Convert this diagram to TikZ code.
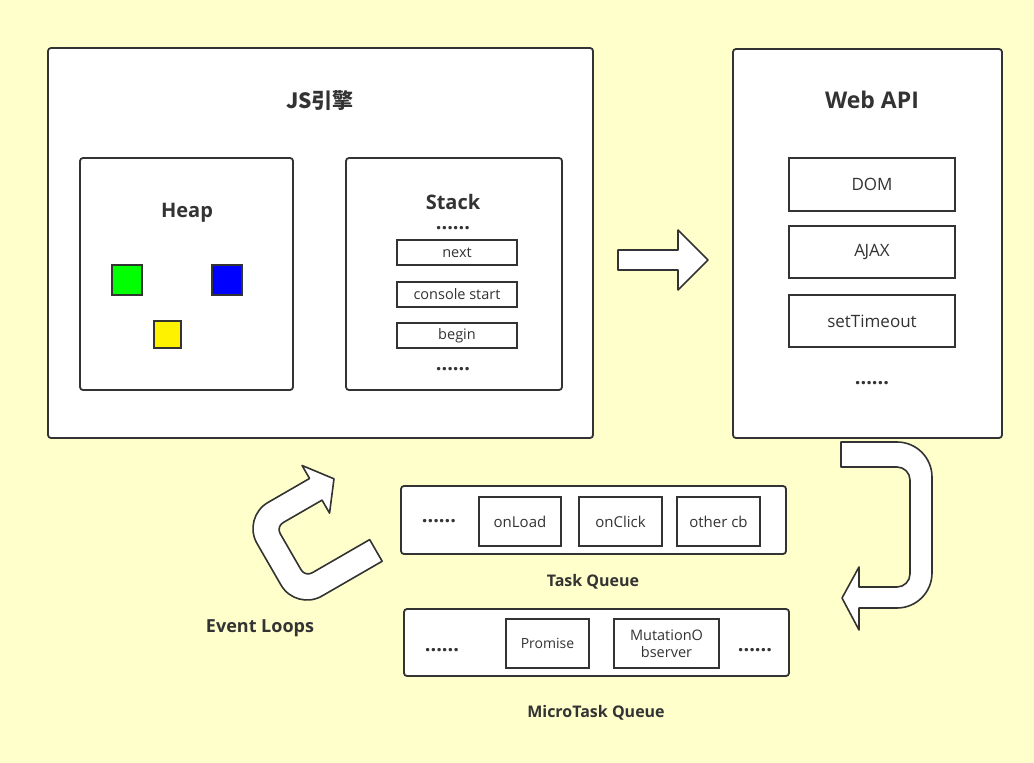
\documentclass[tikz,border=0pt]{standalone}
\usepackage{fontspec}
\setmainfont{Open Sans}
\newfontfamily\cjk{Noto Sans CJK SC}
\definecolor{bgcolor}{HTML}{FFFFCC}
\definecolor{linecolor}{HTML}{333333}

\begin{document}
\begin{tikzpicture}[x=1pt, y=-1pt,
  panel/.style={draw=linecolor, fill=white, line width=1.8pt, rounded corners=3pt, inner sep=0pt},
  cell/.style={draw=linecolor, fill=white, line width=1.8pt, inner sep=0pt, text=linecolor,
    font=\fontsize{15}{17}\selectfont, align=center},
  heading/.style={text=linecolor, font=\bfseries\fontsize{20}{24}\selectfont,
    text height=0.72em, text depth=0em, inner sep=0pt},
  caption/.style={heading, font=\bfseries\fontsize{16}{19}\selectfont},
  ellip/.style={text=linecolor, font=\bfseries\fontsize{20}{20}\selectfont, inner sep=0pt},
  blockarrow/.style={draw=linecolor, fill=white, line width=1.6pt, line join=round}
]

% --- canvas --------------------------------------------------------
\useasboundingbox (0,0) rectangle (1034,763);
\fill[bgcolor] (0,0) rectangle (1034,763);

% === JS engine =====================================================
\node[panel, minimum width=545pt, minimum height=390pt] (engine) at (320.5,243) {};
\node[heading, font=\cjk\bfseries\fontsize{21}{24}\selectfont] (engineT) at (320,105) {JS引擎};

% --- heap ----------------------------------------------------------
\node[panel, minimum width=213pt, minimum height=232pt] (heap) at (186.5,274) {};
\node[heading] (heapT) at (187,214) {Heap};
\node[draw=linecolor, fill=green, line width=1.8pt, minimum size=30pt] (objA) at (127,280) {};
\node[draw=linecolor, fill=blue, line width=1.8pt, minimum size=30pt] (objB) at (227,280) {};
\node[draw=linecolor, fill=yellow, line width=1.8pt, minimum size=27pt] (objC) at (167.5,334.5) {};

% --- stack ---------------------------------------------------------
\node[panel, minimum width=216pt, minimum height=232pt] (stack) at (454,274) {};
\node[heading] (stackT) at (453,206) {Stack};
\node[ellip] (stackTop) at (453,228) {......};
\node[cell, minimum width=120pt, minimum height=25pt, font=\fontsize{14.5}{16}\selectfont] (next) at (457,252.5) {next};
\node[cell, minimum width=120pt, minimum height=25pt, font=\fontsize{14.5}{16}\selectfont] (console) at (457,294.5) {console start};
\node[cell, minimum width=120pt, minimum height=25pt, font=\fontsize{14.5}{16}\selectfont] (begin) at (457,335.5) {begin};
\node[ellip] (stackBot) at (453,369) {......};

% === Web API =======================================================
\node[panel, minimum width=269pt, minimum height=389pt] (webapi) at (867.5,243.5) {};
\node[heading, font=\bfseries\fontsize{23}{25}\selectfont] (webapiT) at (872,105) {Web API};
\node[cell, minimum width=166pt, minimum height=53pt, font=\fontsize{17}{19}\selectfont] (dom) at (872,184.5) {DOM};
\node[cell, minimum width=166pt, minimum height=52pt, font=\fontsize{17}{19}\selectfont] (ajax) at (872,252) {A\kern-0.6pt JAX};
\node[cell, minimum width=166pt, minimum height=52pt, font=\fontsize{17}{19}\selectfont] (timer) at (872,321) {setTimeout};
\node[ellip] (webapiDots) at (872,383) {......};

% === task queue ====================================================
\node[panel, minimum width=385pt, minimum height=68pt] (task) at (593.5,520) {};
\node[ellip] (taskDots) at (439,521) {......};
\node[cell, minimum width=82pt, minimum height=49pt] (onload) at (520,521.5) {onLoad};
\node[cell, minimum width=83pt, minimum height=49pt] (onclick) at (620.5,521.5) {onClick};
\node[cell, minimum width=83pt, minimum height=49pt] (othercb) at (718.5,521.5) {other cb};
\node[caption] (taskT) at (593,583) {Task Queue};

% === microtask queue ===============================================
\node[panel, minimum width=385pt, minimum height=67pt] (micro) at (596.5,642.5) {};
\node[ellip] (microDotsL) at (442,650) {......};
\node[cell, minimum width=83pt, minimum height=49pt, font=\fontsize{14}{17}\selectfont] (promise) at (547.5,643.5) {Promise};
\node[cell, minimum width=105pt, minimum height=49pt, font=\fontsize{14.5}{17}\selectfont] (mutation) at (666.5,643.5) {MutationO\\bserver};
\node[ellip] (microDotsR) at (755,650) {......};
\node[caption] (microT) at (596,714) {MicroTask Queue};

\node[caption, font=\bfseries\fontsize{18}{20}\selectfont] (loopT) at (260,629) {Event Loops};

% === block arrows ==================================================
% engine -> web api
\draw[blockarrow] (618,250) -- (678,250) -- (678,230) -- (708,260) -- (678,290) -- (678,270) -- (618,270) -- cycle;

% web api -> queues (U turn)
\draw[blockarrow] (841,442) -- (897,442) arc[start angle=-90, end angle=0, radius=35]
  -- (932,573) arc[start angle=0, end angle=90, radius=35]
  -- (859,608) -- (859,630) -- (842,598) -- (859,567) -- (859,587)
  -- (897,587) arc[start angle=90, end angle=0, radius=13]
  -- (910,480) arc[start angle=0, end angle=-90, radius=13]
  -- (841,467) -- cycle;

% event loop (tilted U)
\begin{scope}[shift={(296,611)}, x={(0.866pt,0.5pt)}, y={(-0.5pt,0.866pt)}]
  \draw[blockarrow] (30,0) -- (99.5,0) -- (99.5,25)
    -- (33,25) arc[start angle=-90, end angle=-180, radius=8]
    -- (25,75) arc[start angle=180, end angle=90, radius=8]
    -- (78,83) -- (78,68) -- (99,95.5) -- (78,123) -- (78,108)
    -- (30,108) arc[start angle=90, end angle=180, radius=30]
    -- (0,30) arc[start angle=180, end angle=270, radius=30] -- cycle;
\end{scope}

\end{tikzpicture}
\end{document}
